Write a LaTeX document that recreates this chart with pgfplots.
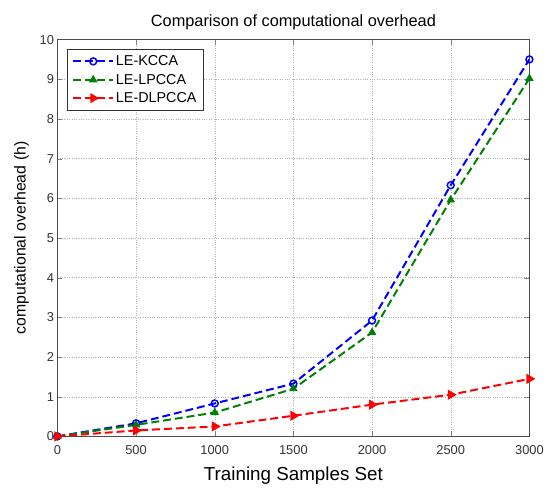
\documentclass[border=0pt]{standalone}
\usepackage{pgfplots}
\pgfplotsset{compat=1.18}
\usepackage{fontspec}
\setmainfont{Liberation Sans}
\begin{document}
\begin{tikzpicture}
\begin{axis}[
    name=ax,
    scale only axis,
    width=477bp, height=401bp,
    xmin=0, xmax=3000, ymin=0, ymax=10,
    xtick={0,500,...,3000}, ytick={0,1,...,10},
    scaled x ticks=false,
    /pgf/number format/assume math mode=true,
    /pgf/number format/set thousands separator={},
    tick label style={font=\fontsize{13bp}{15bp}\selectfont, text=black!80},
    xticklabel style={yshift=-6bp},
    tick align=inside, tick pos=both,
    major tick length=5bp,
    axis line style={black!70},
    grid=major,
    major grid style={dotted, black!30},
    title={Comparison of computational overhead},
    title style={font=\fontsize{16.5bp}{18bp}\selectfont, yshift=0bp},
    xlabel={Training Samples Set},
    ylabel={computational overhead (h)},
    xlabel style={font=\fontsize{19bp}{21bp}\selectfont, yshift=-5bp},
    ylabel style={font=\fontsize{16bp}{18bp}\selectfont, yshift=4bp},
    legend style={at={(0.021,0.975)}, anchor=north west, font=\fontsize{14.5bp}{16bp}\selectfont,
        draw=black!80, row sep=3bp, inner xsep=5bp, inner ysep=4bp},
    legend cell align=left,
    legend image code/.code={%
        \draw[mark repeat=2, mark phase=2] plot coordinates {(0bp,0bp) (20bp,0bp) (40bp,0bp)};},
    every axis plot/.append style={line width=2bp, dash pattern=on 8bp off 4bp},
]
\addplot[blue, mark=o, mark size=3.5bp, mark options={solid, line width=1.5bp}]
  coordinates {(0,0) (500,0.33) (1000,0.83) (1500,1.33) (2000,2.92) (2500,6.33) (3000,9.5)};
\addlegendentry{LE-KCCA}
\addplot[green!50!black, mark=triangle*, mark size=4bp, mark options={solid, line width=1bp}]
  coordinates {(0,0) (500,0.29) (1000,0.6) (1500,1.2) (2000,2.62) (2500,5.96) (3000,9.02)};
\addlegendentry{LE-LPCCA}
\addplot[red, mark=triangle*, mark size=4bp, mark options={solid, rotate=-90}]
  coordinates {(0,0) (500,0.15) (1000,0.25) (1500,0.52) (2000,0.8) (2500,1.05) (3000,1.45)};
\addlegendentry{LE-DLPCCA}
\end{axis}
\path (ax.south west) ++(-58bp,-44bp);
\path (ax.north east) ++(12bp,40bp);
\end{tikzpicture}
\end{document}
